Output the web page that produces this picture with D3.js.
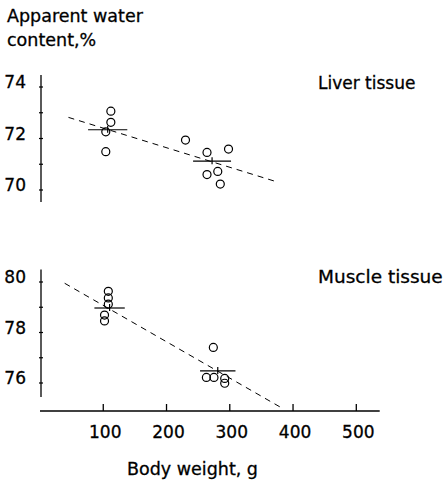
<!DOCTYPE html>
<html>
<head>
<meta charset="utf-8">
<script src="https://cdn.jsdelivr.net/npm/d3@7"></script>
<style>
  html, body { margin: 0; padding: 0; background: #fff; }
  svg { display: block; }
  text { font-family: "DejaVu Sans", sans-serif; fill: #000; stroke: #000; stroke-width: 0.3px; }
</style>
</head>
<body>
<svg id="chart" width="447" height="483"></svg>
<script>
// Body weight (g) vs apparent water content (%) of liver and muscle tissue
const liverWeight = [112, 112, 104, 104, 230, 264, 298, 264, 281, 285];
const liverWater  = [73.06, 72.63, 72.26, 71.49, 71.94, 71.46, 71.59, 70.60, 70.72, 70.23];
const muscleWeight = [108, 108, 108, 102, 102, 274, 263, 275, 292, 292];
const muscleWater  = [79.63, 79.37, 79.12, 78.69, 78.46, 77.41, 76.22, 76.22, 76.18, 75.99];

// group means: [weight, water, half-spread of weight]
const liverMeans  = [[107, 72.34, 31], [272, 71.12, 30]];
const muscleMeans = [[110, 78.97, 24], [281, 76.48, 28]];

// regression lines: endpoints [weight, water]
const liverFit  = [[45, 72.82], [374, 70.32]];
const muscleFit = [[39, 79.95], [383, 75.00]];

const xTicks = [100, 200, 300, 400, 500];
const liverTicks = [70, 71, 72, 73, 74];
const liverLabels = [70, 72, 74];
const muscleTicks = [76, 77, 78, 79, 80];
const muscleLabels = [76, 78, 80];

const svg = d3.select("#chart");

const x = d3.scaleLinear().domain([0, 500]).range([40, 356.3]);
const yLiver = d3.scaleLinear().domain([70, 74]).range([190, 87]);
const yMuscle = d3.scaleLinear().domain([76, 80]).range([383, 282]);

const axisX = 41;

function panel(y, ticks, labels, extent, weights, water, means, fit, title, titleY, titleSize) {
  const g = svg.append("g");
  // vertical axis line
  g.append("line")
    .attr("x1", axisX).attr("x2", axisX)
    .attr("y1", y(extent[1])).attr("y2", y(extent[0]))
    .attr("stroke", "#000").attr("stroke-width", 1.3);
  g.selectAll("line.tick").data(ticks).join("line")
    .attr("class", "tick")
    .attr("x1", axisX - 2).attr("x2", axisX + 2)
    .attr("y1", d => y(d)).attr("y2", d => y(d))
    .attr("stroke", "#000").attr("stroke-width", 1.2);
  g.selectAll("text.ylab").data(labels).join("text")
    .attr("class", "ylab")
    .attr("x", 26).attr("y", d => y(d) - 5)
    .attr("dy", "0.36em")
    .attr("text-anchor", "end")
    .attr("font-size", 17)
    .text(d => d);

  // regression line
  g.append("line")
    .attr("x1", x(fit[0][0])).attr("y1", y(fit[0][1]))
    .attr("x2", x(fit[1][0])).attr("y2", y(fit[1][1]))
    .attr("stroke", "#000").attr("stroke-width", 1)
    .attr("stroke-dasharray", "6,5");

  // group means with weight spread
  means.forEach(m => {
    g.append("line")
      .attr("x1", x(m[0] - m[2])).attr("x2", x(m[0] + m[2]))
      .attr("y1", y(m[1])).attr("y2", y(m[1]))
      .attr("stroke", "#000").attr("stroke-width", 1.2);
    g.append("line")
      .attr("x1", x(m[0])).attr("x2", x(m[0]))
      .attr("y1", y(m[1]) - 4).attr("y2", y(m[1]) + 3)
      .attr("stroke", "#000").attr("stroke-width", 1.2);
  });

  // individual animals
  g.selectAll("circle").data(weights.map((w, i) => [w, water[i]])).join("circle")
    .attr("cx", d => x(d[0])).attr("cy", d => y(d[1]))
    .attr("r", 4)
    .attr("fill", "none").attr("stroke", "#000").attr("stroke-width", 1.2);

  g.append("text")
    .attr("x", 318).attr("y", titleY)
    .attr("font-size", titleSize)
    .text(title);
}

panel(yLiver, liverTicks, liverLabels, [69.53, 74.47],
      liverWeight, liverWater, liverMeans, liverFit, "Liver tissue", 89, 17);
panel(yMuscle, muscleTicks, muscleLabels, [75.45, 80.5],
      muscleWeight, muscleWater, muscleMeans, muscleFit, "Muscle tissue", 283, 18.5);

// body weight axis
const xAxisY = 411;
svg.append("line")
  .attr("x1", x(0)).attr("x2", x(537))
  .attr("y1", xAxisY).attr("y2", xAxisY)
  .attr("stroke", "#000").attr("stroke-width", 1.3);
svg.selectAll("line.xtick").data(xTicks).join("line")
  .attr("class", "xtick")
  .attr("x1", d => x(d)).attr("x2", d => x(d))
  .attr("y1", xAxisY).attr("y2", xAxisY - 7)
  .attr("stroke", "#000").attr("stroke-width", 1.3);
svg.selectAll("text.xlab").data(xTicks).join("text")
  .attr("class", "xlab")
  .attr("x", d => x(d) + 2).attr("y", 438)
  .attr("text-anchor", "middle")
  .attr("font-size", 17)
  .text(d => d);

svg.append("text")
  .attr("x", 127).attr("y", 475)
  .attr("font-size", 17.5)
  .text("Body weight, g");

// value axis title
const yTitle = svg.append("text").attr("font-size", 17.5);
yTitle.append("tspan").attr("x", 7).attr("y", 22).text("Apparent water");
yTitle.append("tspan").attr("x", 7).attr("y", 46).text("content,%");
</script>
</body>
</html>
